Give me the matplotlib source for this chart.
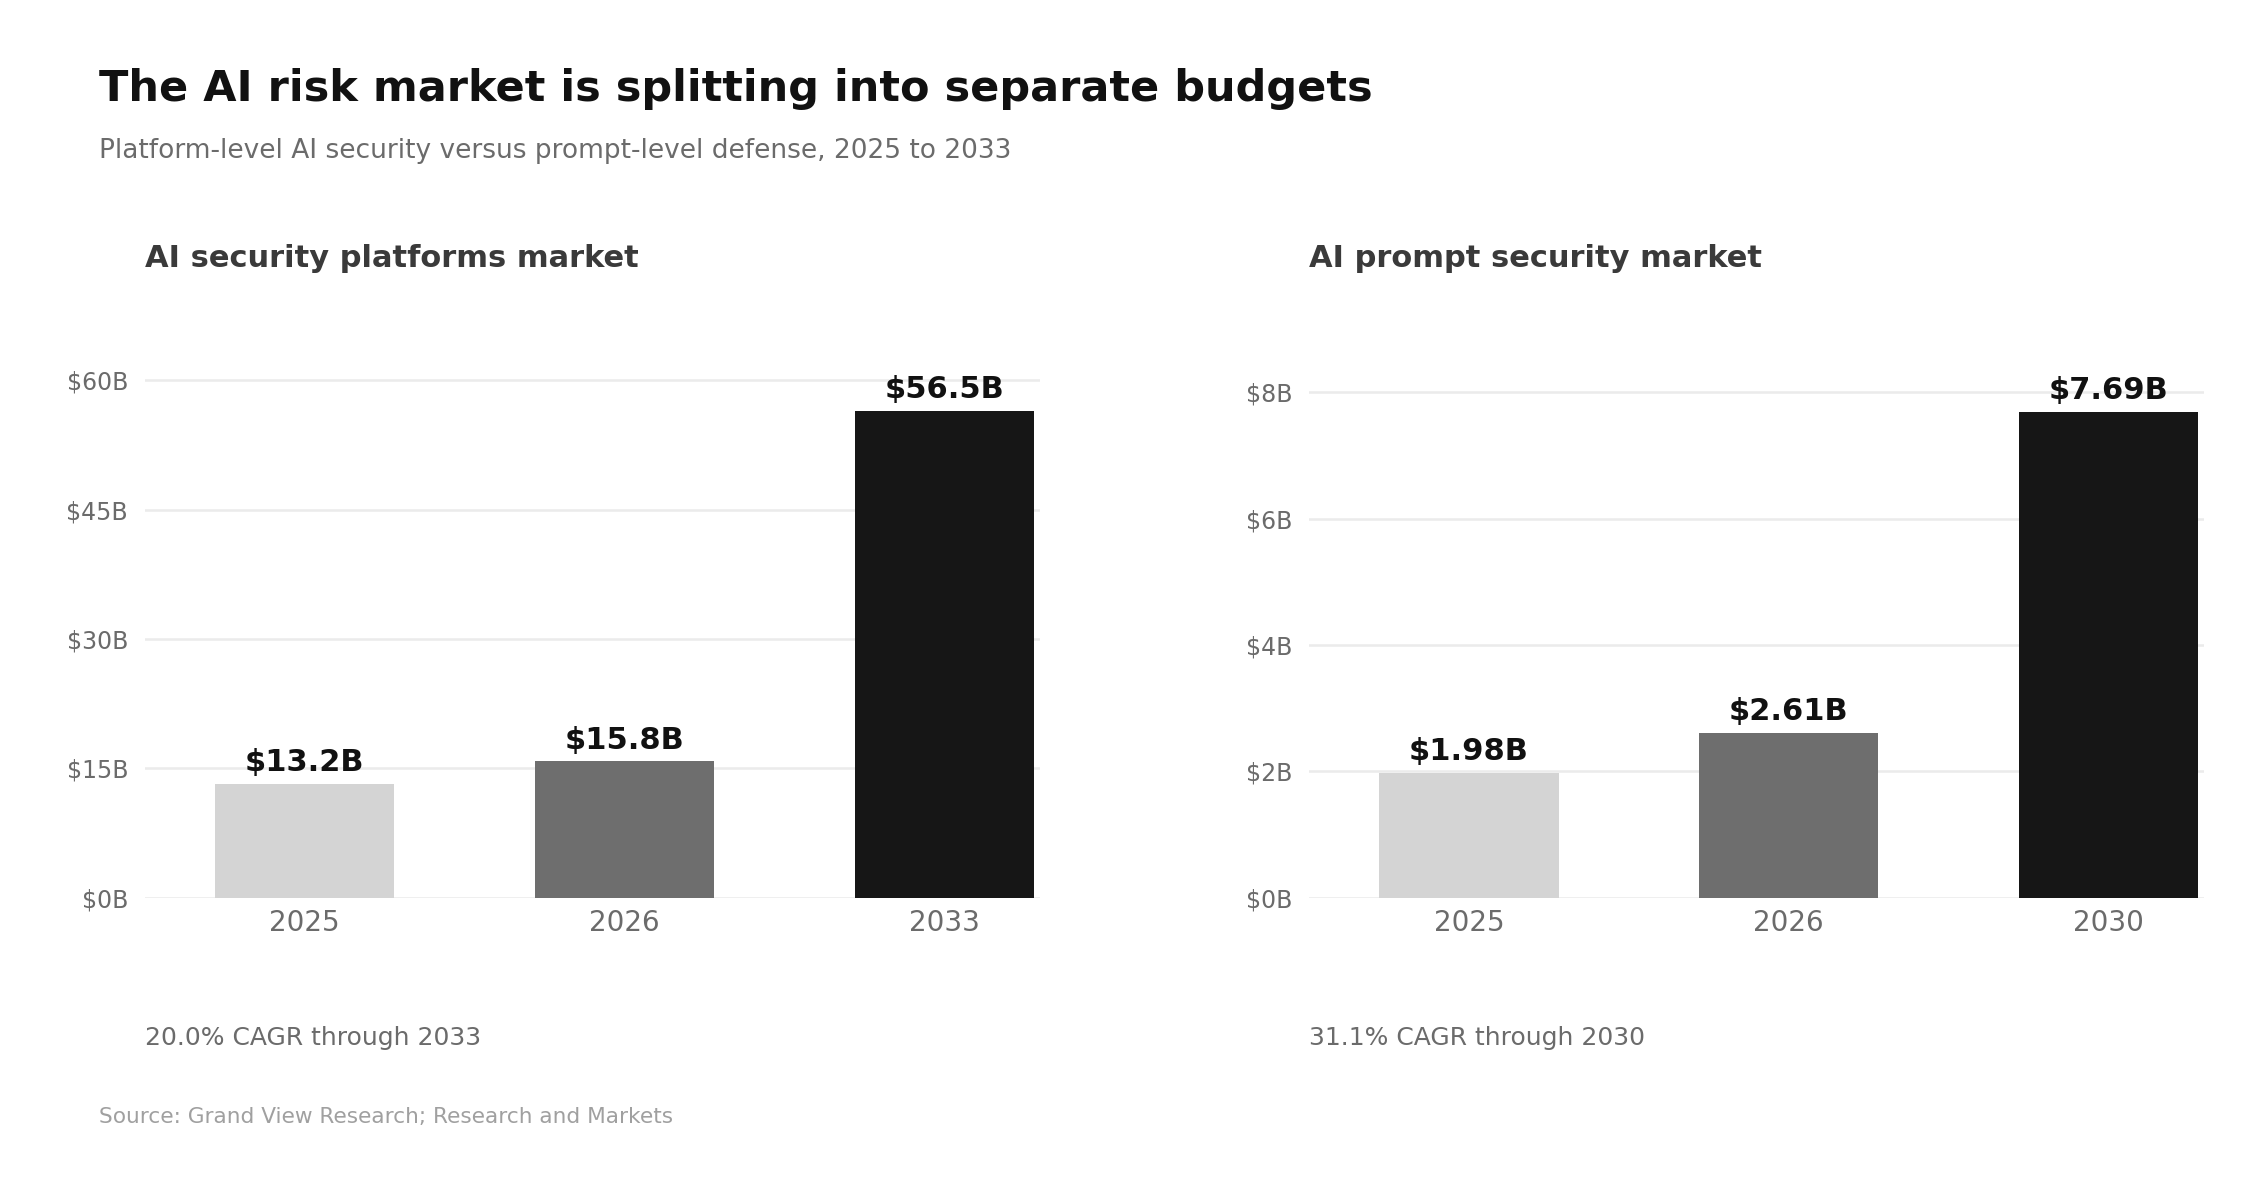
import matplotlib
matplotlib.use("Agg")
import matplotlib.pyplot as plt
from matplotlib.ticker import FuncFormatter

left_years = ["2025", "2026", "2033"]
left_vals = [13.2, 15.8, 56.5]
left_labels = ["$13.2B", "$15.8B", "$56.5B"]
left_ticks = [0, 15, 30, 45, 60]

right_years = ["2025", "2026", "2030"]
right_vals = [1.98, 2.61, 7.69]
right_labels = ["$1.98B", "$2.61B", "$7.69B"]
right_ticks = [0, 2, 4, 6, 8]

colors = ["#d4d4d4", "#6e6e6e", "#161616"]

fig = plt.figure(figsize=(11.305, 5.96), dpi=200)
fig.patch.set_facecolor("white")

fig.text(0.044, 0.925, "The AI risk market is splitting into separate budgets",
         fontsize=15.5, fontweight="bold", color="#111111", va="center")
fig.text(0.044, 0.873, "Platform-level AI security versus prompt-level defense, 2025 to 2033",
         fontsize=9.5, color="#6b6b6b", va="center")
fig.text(0.044, 0.063, "Source: Grand View Research; Research and Markets",
         fontsize=7.8, color="#a0a0a0", va="center")

def panel(rect, cats, vals, labels, ticks, ymax, title, note):
    ax = fig.add_axes(rect)
    x = range(len(cats))
    ax.bar(x, vals, width=0.56, color=colors, zorder=3)
    for i, (v, l) in enumerate(zip(vals, labels)):
        ax.text(i, v + ymax * 0.012, l, ha="center", va="bottom",
                fontsize=11, fontweight="bold", color="#111111")
    ax.set_ylim(0, ymax)
    ax.set_xlim(-0.5, 2.3)
    ax.set_xticks(list(x))
    ax.set_xticklabels(cats, fontsize=10, color="#6b6b6b")
    ax.set_yticks(ticks)
    ax.yaxis.set_major_formatter(FuncFormatter(lambda v, p: f"${v:g}B"))
    ax.tick_params(axis="y", labelsize=8.5, labelcolor="#6b6b6b", length=0, pad=6)
    ax.tick_params(axis="x", length=0, pad=4)
    ax.grid(axis="y", color="#ebebeb", linewidth=0.9, zorder=0)
    for s in ax.spines.values():
        s.set_visible(False)
    ax.text(0.0, 1.14, title, transform=ax.transAxes, fontsize=11,
            fontweight="bold", color="#3a3a3a", va="center")
    ax.text(0.0, -0.25, note, transform=ax.transAxes, fontsize=9,
            color="#6b6b6b", va="center")
    return ax

panel([0.064, 0.247, 0.396, 0.47], left_years, left_vals, left_labels, left_ticks,
      65, "AI security platforms market", "20.0% CAGR through 2033")
panel([0.579, 0.247, 0.396, 0.47], right_years, right_vals, right_labels, right_ticks,
      8.87, "AI prompt security market", "31.1% CAGR through 2030")

fig.savefig("out.png", dpi=200, facecolor="white")
